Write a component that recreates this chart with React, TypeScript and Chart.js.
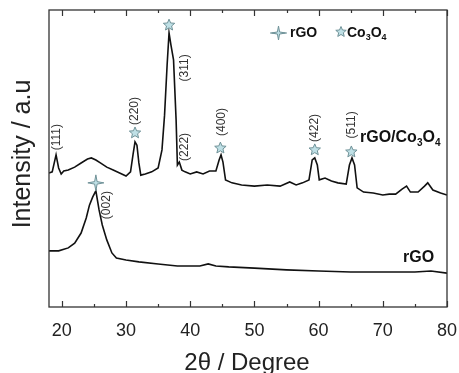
import React, { useEffect, useRef } from "react";
import { Chart, registerables } from "chart.js";

Chart.register(...registerables);

// rGO/Co3O4 composite pattern (2θ, intensity a.u.)
const compTheta = [18.0, 18.5, 19.1, 19.5, 19.9, 20.3, 21.0, 22.0, 23.0, 24.0, 24.6, 25.3, 26.0, 27.0, 28.0, 29.0, 30.0, 30.7, 31.1, 31.4, 31.7, 32.0, 32.3, 33.0, 34.0, 35.0, 35.6, 36.0, 36.4, 36.7, 37.0, 37.4, 37.8, 38.0, 38.3, 38.7, 39.2, 40.0, 41.0, 42.0, 43.0, 44.0, 44.5, 44.8, 45.1, 45.5, 46.5, 48.0, 50.0, 52.0, 54.0, 55.5, 56.5, 57.5, 58.5, 59.0, 59.4, 59.8, 60.1, 61.0, 62.0, 63.0, 64.3, 64.8, 65.2, 65.6, 66.0, 67.0, 68.5, 70.0, 71.0, 72.0, 73.0, 73.7, 74.3, 75.5, 76.5, 77.0, 77.8, 79.0, 80.0];
const compIntensity = [45.1, 45.5, 51.2, 46.8, 44.8, 45.8, 46.1, 47.1, 48.5, 49.8, 50.2, 49.5, 48.5, 47.1, 46.1, 45.1, 44.1, 45.5, 51.5, 55.6, 54.5, 48.5, 44.4, 44.8, 45.5, 46.8, 52.9, 64.6, 81.5, 92.3, 88.2, 83.2, 63.0, 47.8, 48.8, 46.1, 45.5, 44.8, 45.5, 44.8, 45.8, 45.8, 49.5, 51.2, 48.8, 42.8, 41.8, 41.1, 40.7, 41.1, 40.7, 42.1, 41.1, 41.8, 42.8, 49.5, 50.2, 47.8, 42.8, 43.4, 42.4, 41.8, 41.4, 47.8, 50.2, 47.8, 40.1, 38.7, 38.4, 37.7, 38.0, 38.0, 39.7, 40.7, 38.7, 38.7, 40.7, 41.8, 39.4, 38.4, 37.7];

// rGO pattern
const rgoTheta = [18.0, 19.5, 21.0, 22.0, 23.0, 23.8, 24.3, 24.8, 25.3, 25.8, 26.3, 27.0, 27.8, 28.5, 30.0, 32.0, 35.0, 38.0, 40.0, 41.5, 42.8, 44.0, 46.0, 50.0, 55.0, 60.0, 65.0, 70.0, 75.0, 77.5, 80.0];
const rgoIntensity = [18.9, 18.9, 19.9, 21.5, 24.9, 30.0, 34.3, 37.0, 39.1, 32.7, 27.6, 22.6, 18.2, 16.5, 15.8, 15.2, 14.5, 13.8, 13.8, 13.8, 14.5, 13.8, 13.5, 13.1, 12.5, 12.1, 11.8, 11.8, 11.8, 12.1, 11.4];

// x axis ticks
const majorTicks = [20, 30, 40, 50, 60, 70, 80];
const minorTicks = [25, 35, 45, 55, 65, 75];

// Miller-index annotations: label, 2θ, intensity (text centre)
const hklLabels = ["(111)", "(220)", "(311)", "(222)", "(400)", "(422)", "(511)", "(002)"];
const hklTheta = [19.2, 31.4, 39.15, 39.15, 44.9, 59.4, 65.1, 27.0];
const hklIntensity = [57.2, 66.0, 80.5, 53.9, 62.3, 60.3, 61.3, 34.3];

// Co3O4 star markers
const coStarTheta = [31.4, 36.7, 44.7, 59.4, 65.1];
const coStarIntensity = [58.6, 94.9, 53.5, 52.9, 52.2];
// rGO marker
const rgoStarTheta = [25.3];
const rgoStarIntensity = [41.8];

const FONT = "'Liberation Sans', Arial, sans-serif";
const STAR_FILL = "#bfe0e6";
const STAR_STROKE = "#6f9197";

function star5(ctx: CanvasRenderingContext2D, x: number, y: number, r: number) {
  ctx.save();
  ctx.beginPath();
  for (let i = 0; i < 10; i++) {
    const rr = i % 2 === 0 ? r : r * 0.45;
    const a = -Math.PI / 2 + (i * Math.PI) / 5;
    const px = x + rr * Math.cos(a);
    const py = y + rr * Math.sin(a);
    if (i === 0) ctx.moveTo(px, py);
    else ctx.lineTo(px, py);
  }
  ctx.closePath();
  ctx.fillStyle = STAR_FILL;
  ctx.fill();
  ctx.strokeStyle = STAR_STROKE;
  ctx.lineWidth = 1;
  ctx.stroke();
  ctx.restore();
}

function star4(ctx: CanvasRenderingContext2D, x: number, y: number, r: number) {
  ctx.save();
  ctx.beginPath();
  for (let i = 0; i < 8; i++) {
    const rr = i % 2 === 0 ? r : r * 0.22;
    const a = -Math.PI / 2 + (i * Math.PI) / 4;
    const px = x + rr * Math.cos(a);
    const py = y + rr * Math.sin(a);
    if (i === 0) ctx.moveTo(px, py);
    else ctx.lineTo(px, py);
  }
  ctx.closePath();
  ctx.fillStyle = STAR_FILL;
  ctx.fill();
  ctx.strokeStyle = STAR_STROKE;
  ctx.lineWidth = 1;
  ctx.stroke();
  ctx.restore();
}

// draw text with subscript segments: [text, isSub]
function richText(ctx: CanvasRenderingContext2D, parts: [string, boolean][], x: number, y: number, size: number, bold: boolean) {
  let cx = x;
  ctx.save();
  ctx.fillStyle = "#111";
  ctx.textAlign = "left";
  ctx.textBaseline = "middle";
  for (const [t, sub] of parts) {
    const s = sub ? Math.round(size * 0.62) : size;
    ctx.font = `${bold ? "bold " : ""}${s}px ${FONT}`;
    ctx.fillText(t, cx, sub ? y + size * 0.32 : y);
    cx += ctx.measureText(t).width;
  }
  ctx.restore();
}

const overlay = {
  id: "overlay",
  afterDraw(chart: any) {
    const { ctx, chartArea } = chart;
    const xs = chart.scales.x;
    const ys = chart.scales.y;
    const { left, right, top, bottom } = chartArea;
    ctx.save();
    // frame
    ctx.strokeStyle = "#333";
    ctx.lineWidth = 1.3;
    ctx.strokeRect(left, top, right - left, bottom - top);
    // ticks (inward, bottom and top)
    ctx.lineWidth = 1.2;
    ctx.beginPath();
    for (const v of majorTicks) {
      const px = Math.round(xs.getPixelForValue(v)) + 0.5;
      ctx.moveTo(px, bottom); ctx.lineTo(px, bottom - 6);
      ctx.moveTo(px, top); ctx.lineTo(px, top + 6);
    }
    for (const v of minorTicks) {
      const px = Math.round(xs.getPixelForValue(v)) + 0.5;
      ctx.moveTo(px, bottom); ctx.lineTo(px, bottom - 3);
      ctx.moveTo(px, top); ctx.lineTo(px, top + 3);
    }
    ctx.stroke();
    // tick labels
    ctx.fillStyle = "#222";
    ctx.font = `18px ${FONT}`;
    ctx.textAlign = "center";
    ctx.textBaseline = "middle";
    for (const v of majorTicks) {
      ctx.fillText(String(v), xs.getPixelForValue(v), 331);
    }
    // axis titles
    ctx.font = `24px ${FONT}`;
    ctx.textBaseline = "alphabetic";
    ctx.fillText("2θ / Degree", 247, 370);
    ctx.save();
    ctx.translate(30, 154);
    ctx.rotate(-Math.PI / 2);
    ctx.font = `25px ${FONT}`;
    ctx.textAlign = "center";
    ctx.fillText("Intensity / a.u", 0, 0);
    ctx.restore();

    // hkl labels
    ctx.fillStyle = "#333";
    ctx.font = `12px ${FONT}`;
    for (let i = 0; i < hklLabels.length; i++) {
      ctx.save();
      ctx.translate(xs.getPixelForValue(hklTheta[i]), ys.getPixelForValue(hklIntensity[i]));
      ctx.rotate(-Math.PI / 2);
      ctx.textAlign = "center";
      ctx.textBaseline = "middle";
      ctx.fillText(hklLabels[i], 0, 0);
      ctx.restore();
    }
    // markers
    for (let i = 0; i < coStarTheta.length; i++) {
      star5(ctx, xs.getPixelForValue(coStarTheta[i]), ys.getPixelForValue(coStarIntensity[i]), 6);
    }
    for (let i = 0; i < rgoStarTheta.length; i++) {
      star4(ctx, xs.getPixelForValue(rgoStarTheta[i]), ys.getPixelForValue(rgoStarIntensity[i]), 8);
    }
    // legend
    const ly = 33;
    ctx.strokeStyle = STAR_STROKE;
    ctx.lineWidth = 1;
    ctx.beginPath();
    ctx.moveTo(270, ly); ctx.lineTo(287, ly);
    ctx.stroke();
    star4(ctx, 278.5, ly, 7);
    richText(ctx, [["rGO", false]], 290, ly, 14, true);
    star5(ctx, 341, ly - 1, 5.5);
    richText(ctx, [["Co", false], ["3", true], ["O", false], ["4", true]], 347, ly, 14, true);
    // series labels
    richText(ctx, [["rGO/Co", false], ["3", true], ["O", false], ["4", true]], 360, 138, 16, true);
    richText(ctx, [["rGO", false]], 403, 258, 16, true);
    ctx.restore();
  },
};

export default function App() {
  const ref = useRef<HTMLCanvasElement | null>(null);
  useEffect(() => {
    if (!ref.current) return;
    const chart = new Chart(ref.current, {
      type: "line",
      data: {
        datasets: [
          {
            label: "rGO/Co3O4",
            data: compTheta.map((x, i) => ({ x, y: compIntensity[i] })),
            borderColor: "#111",
            borderWidth: 1.6,
            pointRadius: 0,
            tension: 0,
            fill: false,
          },
          {
            label: "rGO",
            data: rgoTheta.map((x, i) => ({ x, y: rgoIntensity[i] })),
            borderColor: "#111",
            borderWidth: 1.6,
            pointRadius: 0,
            tension: 0,
            fill: false,
          },
        ],
      },
      options: {
        responsive: false,
        animation: false,
        layout: { padding: { left: 49, right: 12, top: 10, bottom: 66 } },
        plugins: { legend: { display: false }, tooltip: { enabled: false } },
        scales: {
          x: { type: "linear", min: 18, max: 80, display: false },
          y: { type: "linear", min: 0, max: 100, display: false },
        },
      },
      plugins: [overlay],
    });
    return () => chart.destroy();
  }, []);
  return (
    <div style={{ position: "absolute", left: 0, top: 0, width: 459, height: 373, background: "#fff" }}>
      <canvas ref={ref} width={459} height={373} style={{ width: 459, height: 373 }} />
    </div>
  );
}
